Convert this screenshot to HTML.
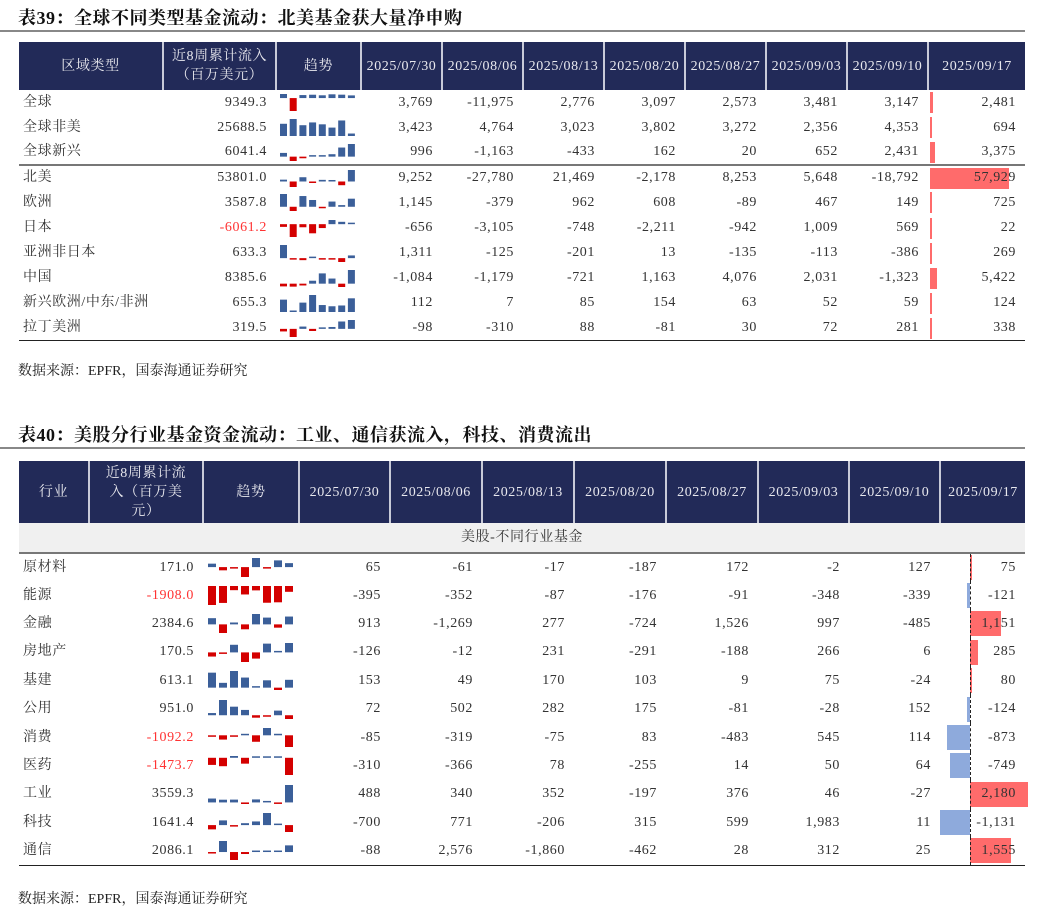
<!DOCTYPE html>
<html><head><meta charset="utf-8">
<style>
*{margin:0;padding:0;box-sizing:border-box}
body{width:1037px;height:913px;background:#fff;position:relative;font-family:"Liberation Serif","Noto Serif CJK SC",serif;color:#333;overflow:hidden}
.title{position:absolute;left:18px;font-size:18px;font-weight:bold;color:#111;letter-spacing:0.5px}
.rule{position:absolute;left:0;width:1025px;height:2px;background:#888}
.src{position:absolute;left:18px;font-size:14px;color:#222}
table{position:absolute;left:19px;border-collapse:collapse;table-layout:fixed;font-size:14px;letter-spacing:0.6px}
th{background:#222a58;color:#e8e8ee;font-weight:normal;border-left:2px solid #c8cad8;text-align:center;line-height:19px;font-size:14px}
th:first-child{border-left:none}
td{text-align:right;padding-right:9px;white-space:nowrap;position:relative;padding-top:0;padding-bottom:0;line-height:16px;vertical-align:middle}
#t1 td{height:25.1px}
#t2 td{height:28.4px}
#t2 tr.sub td{height:30px}
td.l{text-align:left;padding-left:4px;padding-right:0}
td.sp{padding:0}
.neg{color:#f33}
.sep td{border-bottom:2px solid #777}
.bot td{border-bottom:1.5px solid #222}
.bar{position:absolute;top:50%;}
.txt{position:relative;z-index:2}
</style></head><body>
<div class="title" style="top:4px">表39：全球不同类型基金流动：北美基金获大量净申购</div>
<div class="rule" style="top:30px"></div>
<table id="t1" style="top:42px;width:1006px">
<colgroup><col style="width:144px"><col style="width:113px"><col style="width:85px"><col style="width:81px"><col style="width:81px"><col style="width:81px"><col style="width:81px"><col style="width:81px"><col style="width:81px"><col style="width:81px"><col style="width:97px"></colgroup>
<tr style="height:48px"><th>区域类型</th><th>近8周累计流入<br>（百万美元）</th><th>趋势</th><th>2025/07/30</th><th>2025/08/06</th><th>2025/08/13</th><th>2025/08/20</th><th>2025/08/27</th><th>2025/09/03</th><th>2025/09/10</th><th>2025/09/17</th></tr>
<tr><td class="l">全球</td><td>9349.3</td><td class="sp"></td><td>3,769</td><td>-11,975</td><td>2,776</td><td>3,097</td><td>2,573</td><td>3,481</td><td>3,147</td><td class="lc"><span class="txt">2,481</span></td></tr>
<tr><td class="l">全球非美</td><td>25688.5</td><td class="sp"></td><td>3,423</td><td>4,764</td><td>3,023</td><td>3,802</td><td>3,272</td><td>2,356</td><td>4,353</td><td class="lc"><span class="txt">694</span></td></tr>
<tr class="sep"><td class="l">全球新兴</td><td>6041.4</td><td class="sp"></td><td>996</td><td>-1,163</td><td>-433</td><td>162</td><td>20</td><td>652</td><td>2,431</td><td class="lc"><span class="txt">3,375</span></td></tr>
<tr><td class="l">北美</td><td>53801.0</td><td class="sp"></td><td>9,252</td><td>-27,780</td><td>21,469</td><td>-2,178</td><td>8,253</td><td>5,648</td><td>-18,792</td><td class="lc"><span class="txt">57,929</span></td></tr>
<tr><td class="l">欧洲</td><td>3587.8</td><td class="sp"></td><td>1,145</td><td>-379</td><td>962</td><td>608</td><td>-89</td><td>467</td><td>149</td><td class="lc"><span class="txt">725</span></td></tr>
<tr><td class="l">日本</td><td class="neg">-6061.2</td><td class="sp"></td><td>-656</td><td>-3,105</td><td>-748</td><td>-2,211</td><td>-942</td><td>1,009</td><td>569</td><td class="lc"><span class="txt">22</span></td></tr>
<tr><td class="l">亚洲非日本</td><td>633.3</td><td class="sp"></td><td>1,311</td><td>-125</td><td>-201</td><td>13</td><td>-135</td><td>-113</td><td>-386</td><td class="lc"><span class="txt">269</span></td></tr>
<tr><td class="l">中国</td><td>8385.6</td><td class="sp"></td><td>-1,084</td><td>-1,179</td><td>-721</td><td>1,163</td><td>4,076</td><td>2,031</td><td>-1,323</td><td class="lc"><span class="txt">5,422</span></td></tr>
<tr><td class="l">新兴欧洲/中东/非洲</td><td>655.3</td><td class="sp"></td><td>112</td><td>7</td><td>85</td><td>154</td><td>63</td><td>52</td><td>59</td><td class="lc"><span class="txt">124</span></td></tr>
<tr class="bot"><td class="l">拉丁美洲</td><td>319.5</td><td class="sp"></td><td>-98</td><td>-310</td><td>88</td><td>-81</td><td>30</td><td>72</td><td>281</td><td class="lc"><span class="txt">338</span></td></tr>
</table>
<div class="src" style="top:360px">数据来源：EPFR，国泰海通证券研究</div>

<div class="title" style="top:421px">表40：美股分行业基金资金流动：工业、通信获流入，科技、消费流出</div>
<div class="rule" style="top:447px"></div>
<table id="t2" style="top:461px;width:1006px">
<colgroup><col style="width:70px"><col style="width:114px"><col style="width:96px"><col style="width:91px"><col style="width:92px"><col style="width:92px"><col style="width:92px"><col style="width:92px"><col style="width:91px"><col style="width:91px"><col style="width:85px"></colgroup>
<tr style="height:62px"><th>行业</th><th>近8周累计流<br>入（百万美<br>元）</th><th>趋势</th><th>2025/07/30</th><th>2025/08/06</th><th>2025/08/13</th><th>2025/08/20</th><th>2025/08/27</th><th>2025/09/03</th><th>2025/09/10</th><th>2025/09/17</th></tr>
<tr class="sep sub" style="background:#f0f0f0"><td colspan="11" style="text-align:center;padding:0;font-size:14px">美股-不同行业基金</td></tr>
<tr><td class="l">原材料</td><td>171.0</td><td class="sp"></td><td>65</td><td>-61</td><td>-17</td><td>-187</td><td>172</td><td>-2</td><td>127</td><td class="lc"><span class="txt">75</span></td></tr>
<tr><td class="l">能源</td><td class="neg">-1908.0</td><td class="sp"></td><td>-395</td><td>-352</td><td>-87</td><td>-176</td><td>-91</td><td>-348</td><td>-339</td><td class="lc"><span class="txt">-121</span></td></tr>
<tr><td class="l">金融</td><td>2384.6</td><td class="sp"></td><td>913</td><td>-1,269</td><td>277</td><td>-724</td><td>1,526</td><td>997</td><td>-485</td><td class="lc"><span class="txt">1,151</span></td></tr>
<tr><td class="l">房地产</td><td>170.5</td><td class="sp"></td><td>-126</td><td>-12</td><td>231</td><td>-291</td><td>-188</td><td>266</td><td>6</td><td class="lc"><span class="txt">285</span></td></tr>
<tr><td class="l">基建</td><td>613.1</td><td class="sp"></td><td>153</td><td>49</td><td>170</td><td>103</td><td>9</td><td>75</td><td>-24</td><td class="lc"><span class="txt">80</span></td></tr>
<tr><td class="l">公用</td><td>951.0</td><td class="sp"></td><td>72</td><td>502</td><td>282</td><td>175</td><td>-81</td><td>-28</td><td>152</td><td class="lc"><span class="txt">-124</span></td></tr>
<tr><td class="l">消费</td><td class="neg">-1092.2</td><td class="sp"></td><td>-85</td><td>-319</td><td>-75</td><td>83</td><td>-483</td><td>545</td><td>114</td><td class="lc"><span class="txt">-873</span></td></tr>
<tr><td class="l">医药</td><td class="neg">-1473.7</td><td class="sp"></td><td>-310</td><td>-366</td><td>78</td><td>-255</td><td>14</td><td>50</td><td>64</td><td class="lc"><span class="txt">-749</span></td></tr>
<tr><td class="l">工业</td><td>3559.3</td><td class="sp"></td><td>488</td><td>340</td><td>352</td><td>-197</td><td>376</td><td>46</td><td>-27</td><td class="lc"><span class="txt">2,180</span></td></tr>
<tr><td class="l">科技</td><td>1641.4</td><td class="sp"></td><td>-700</td><td>771</td><td>-206</td><td>315</td><td>599</td><td>1,983</td><td>11</td><td class="lc"><span class="txt">-1,131</span></td></tr>
<tr class="bot"><td class="l">通信</td><td>2086.1</td><td class="sp"></td><td>-88</td><td>2,576</td><td>-1,860</td><td>-462</td><td>28</td><td>312</td><td>25</td><td class="lc"><span class="txt">1,555</span></td></tr>
</table>
<div class="src" style="top:888px">数据来源：EPFR，国泰海通证券研究</div>

<script>
var d1=[[3769,-11975,2776,3097,2573,3481,3147,2481],[3423,4764,3023,3802,3272,2356,4353,694],[996,-1163,-433,162,20,652,2431,3375],[9252,-27780,21469,-2178,8253,5648,-18792,57929],[1145,-379,962,608,-89,467,149,725],[-656,-3105,-748,-2211,-942,1009,569,22],[1311,-125,-201,13,-135,-113,-386,269],[-1084,-1179,-721,1163,4076,2031,-1323,5422],[112,7,85,154,63,52,59,124],[-98,-310,88,-81,30,72,281,338]];
var d2=[[65,-61,-17,-187,172,-2,127,75],[-395,-352,-87,-176,-91,-348,-339,-121],[913,-1269,277,-724,1526,997,-485,1151],[-126,-12,231,-291,-188,266,6,285],[153,49,170,103,9,75,-24,80],[72,502,282,175,-81,-28,152,-124],[-85,-319,-75,83,-483,545,114,-873],[-310,-366,78,-255,14,50,64,-749],[488,340,352,-197,376,46,-27,2180],[-700,771,-206,315,599,1983,11,-1131],[-88,2576,-1860,-462,28,312,25,1555]];
function build(id,data,x0,step,w,H,axisOff,scale,bh,dashed){
 var t=document.getElementById(id);
 var sps=t.querySelectorAll('td.sp'), lcs=t.querySelectorAll('td.lc');
 for(var i=0;i<data.length;i++){
  var v=data[i],mx=Math.max(0,Math.max.apply(null,v)),mn=Math.min(0,Math.min.apply(null,v));
  var r=mx-mn||1,s='<svg width="100%" height="'+(H+4)+'" style="position:absolute;left:0;top:50%;margin-top:-'+((H+4)/2)+'px">';
  var z=2+mx/r*H;
  for(var j=0;j<8;j++){var h=Math.abs(v[j])/r*H;if(h<1.5)h=1.5;var x=x0+j*step;
   if(v[j]>=0)s+='<rect x="'+x+'" y="'+(z-h)+'" width="'+w+'" height="'+h+'" fill="#3b5f99"/>';
   else s+='<rect x="'+x+'" y="'+z+'" width="'+w+'" height="'+h+'" fill="#d40000"/>';}
  sps[i].innerHTML=s+'</svg>';
  var val=v[7],bw=Math.abs(val)*scale,c=lcs[i],b=document.createElement('div');
  b.className='bar';b.style.height=bh+'px';b.style.marginTop=(-bh/2)+'px';
  if(val>=0){b.style.left=axisOff+'px';b.style.background='#ff6b6b';}
  else{b.style.left=(axisOff-bw)+'px';b.style.background='#8eaadc';}
  b.style.width=Math.max(bw,1.5)+'px';c.appendChild(b);
  if(dashed){var dl=document.createElement('div');dl.style.cssText='position:absolute;left:'+axisOff+'px;top:0;bottom:0;border-left:1px dashed #222';c.appendChild(dl);}
 }
}
build('t1',d1,4,9.7,7,17,2,79/57929,21,false);
build('t2',d2,5,11,8,19,30,58/2180,25,true);
</script>
</body></html>
